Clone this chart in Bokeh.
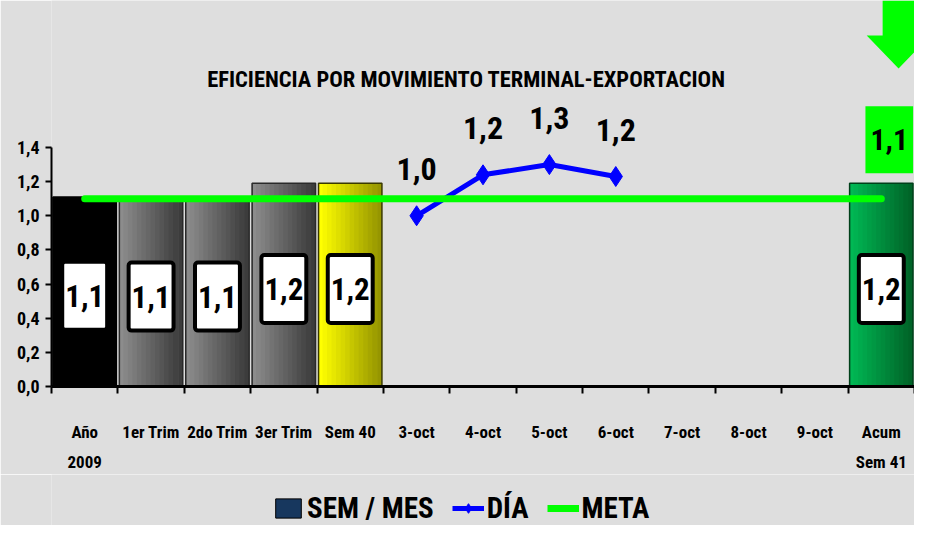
from bokeh.plotting import figure
from bokeh.layouts import column
from bokeh.models import (ColumnDataSource, FixedTicker, CustomJSTickFormatter,
                          Legend, LegendItem, Range1d, Label)
from bokeh.core.properties import value
from bokeh.embed import file_html
from bokeh.resources import INLINE

# ---------------- data ----------------
categories = ["Año\n2009", "1er Trim", "2do Trim", "3er Trim", "Sem 40",
              "3-oct", "4-oct", "5-oct", "6-oct", "7-oct", "8-oct", "9-oct",
              "Acum\nSem 41"]
bar_categories = ["Año\n2009", "1er Trim", "2do Trim", "3er Trim", "Sem 40", "Acum\nSem 41"]
bar_values = [1.11, 1.10, 1.10, 1.19, 1.19, 1.19]
day_categories = ["3-oct", "4-oct", "5-oct", "6-oct"]
day_values = [1.00, 1.24, 1.30, 1.23]
meta_values = [1.1, 1.1, 1.1, 1.1, 1.1, 1.1, 1.1, 1.1, 1.1, 1.1, 1.1, 1.1, 1.1]
meta_label_value = 1.1
y_ticks = [0.0, 0.2, 0.4, 0.6, 0.8, 1.0, 1.2, 1.4]
title_text = "EFICIENCIA POR MOVIMIENTO TERMINAL-EXPORTACION"
legend_labels = ["SEM / MES", "DÍA", "META"]

# ---------------- style ----------------
FONT = "Roboto Condensed"
BG = "#dedede"
# (left colour, right colour) of each bar's horizontal gradient
bar_grad = [((0, 0, 0), (0, 0, 0)),
            ((140, 140, 140), (60, 60, 60)),
            ((140, 140, 140), (60, 60, 60)),
            ((140, 140, 140), (60, 60, 60)),
            ((255, 255, 0), (150, 150, 0)),
            ((0, 184, 84), (0, 100, 40))]
bar_line_colors = ["#000000", "#2a2a2a", "#2a2a2a", "#2a2a2a", "#3a3a00", "#00401a"]
SEM_COLOR = "#17375e"
DAY_COLOR = "#0000ff"
META_COLOR = "#00ff00"
NAN = float("nan")
BAR_W = 0.955
N_STRIPS = 14


def fmt(v):
    return f"{v:.1f}".replace(".", ",")


def xpos(cat):
    return categories.index(cat) + 0.5


def hexc(rgb):
    return "#%02x%02x%02x" % tuple(int(round(c)) for c in rgb)


n = len(categories)
Y_TOP = 2.261

p = figure(frame_width=863, frame_height=386,
           output_backend="svg", toolbar_location=None,
           x_range=Range1d(0, n), y_range=Range1d(0, Y_TOP),
           min_border_left=51, min_border_right=0, min_border_top=0,
           min_border_bottom=0,
           background_fill_color=BG, border_fill_color=BG,
           outline_line_color=None)
p.xgrid.visible = False
p.ygrid.visible = False

# y axis
p.yaxis.ticker = FixedTicker(ticks=y_ticks)
p.yaxis.bounds = (0, 1.4)
p.yaxis.formatter = CustomJSTickFormatter(code="return tick.toFixed(1).replace('.', ',')")
p.yaxis.major_label_text_font = FONT
p.yaxis.major_label_text_font_size = "18px"
p.yaxis.major_label_text_font_style = "bold"
p.yaxis.major_label_text_color = "#000000"
p.yaxis.major_tick_out = 6
p.yaxis.major_tick_in = 0
p.yaxis.minor_tick_out = 0
p.yaxis.minor_tick_in = 0
p.yaxis.axis_line_width = 2
p.yaxis.major_tick_line_width = 2
p.yaxis.major_label_standoff = 6

# x axis (ticks at category boundaries, labels at centres)
p.xaxis.ticker = FixedTicker(ticks=[i + 0.5 for i in range(n)],
                             minor_ticks=list(range(n + 1)))
p.xaxis.formatter = CustomJSTickFormatter(args=dict(labels=categories),
                                          code="return labels[Math.floor(tick)]")
p.xaxis.major_tick_line_color = None
p.xaxis.major_tick_out = 7
p.xaxis.minor_tick_out = 7
p.xaxis.minor_tick_in = 0
p.xaxis.minor_tick_line_width = 2
p.xaxis.axis_line_width = 3
p.xaxis.major_label_text_font = FONT
p.xaxis.major_label_text_font_size = "17px"
p.xaxis.major_label_text_font_style = "bold"
p.xaxis.major_label_text_color = "#000000"
p.xaxis.major_label_text_line_height = 1.5
p.xaxis.major_label_standoff = 28

# bars: gradient fill built from strips, then an outline on top
bar_x = [xpos(c) for c in bar_categories]
sx, stop, scol, sw = [], [], [], []
for bx, v, (c0, c1) in zip(bar_x, bar_values, bar_grad):
    step = BAR_W / N_STRIPS
    for j in range(N_STRIPS):
        t = j / (N_STRIPS - 1)
        sx.append(bx - BAR_W / 2 + (j + 0.5) * step)
        stop.append(v)
        sw.append(step * 1.25 if j < N_STRIPS - 1 else step)
        scol.append(hexc([a + (b - a) * t for a, b in zip(c0, c1)]))
p.vbar(x=sx, top=stop, width=sw, fill_color=scol, line_color=None)

bar_src = ColumnDataSource(dict(
    x=bar_x,
    top=bar_values,
    mid=[v / 2 for v in bar_values],
    label=[fmt(v) for v in bar_values],
    lcolor=bar_line_colors,
))
p.vbar(x="x", top="top", width=BAR_W, source=bar_src, fill_color=None,
       line_color="lcolor", line_width=1.5)

# daily line
day_src = ColumnDataSource(dict(
    x=[xpos(c) for c in day_categories],
    y=day_values,
    label=[fmt(v) for v in day_values],
))
p.line("x", "y", source=day_src, line_color=DAY_COLOR, line_width=5)
p.scatter("x", "y", source=day_src, marker="diamond", size=20,
          fill_color=DAY_COLOR, line_color=DAY_COLOR)

# target line
meta_src = ColumnDataSource(dict(x=[xpos(c) for c in categories], y=meta_values))
p.line("x", "y", source=meta_src, line_color=META_COLOR, line_width=7, line_cap="round")

# bar value labels
p.text(x="x", y="mid", text="label", source=bar_src, text_align="center",
       text_baseline="middle", y_offset=4, text_font=value(FONT), text_font_size="31px",
       text_font_style="bold", text_color="#000000",
       background_fill_color="#ffffff", border_line_color="#000000",
       border_line_width=4, border_radius=3,
       padding=dict(left=3, right=3, top=23, bottom=23))

# daily value labels
p.text(x="x", y="y", text="label", source=day_src, text_align="center",
       text_baseline="middle", y_offset=-47, text_font=value(FONT),
       text_font_size="32px", text_font_style="bold", text_color="#000000")

# target label box (top right)
last = categories[-1]
p.text(x=[xpos(last) + 0.12], y=[1.44], text=[fmt(meta_label_value)],
       text_align="center", text_baseline="middle", y_offset=-1,
       text_font=value(FONT), text_font_size="30px", text_font_style="bold",
       text_color="#000000", background_fill_color=META_COLOR, border_line_color=None,
       padding=dict(left=5, right=5, top=23, bottom=23))

# decorative green arrow
cx = xpos(last) + 0.26
p.patch(x=[cx - 0.24, cx + 0.24, cx + 0.24, cx + 0.48, cx, cx - 0.48, cx - 0.24],
        y=[Y_TOP, Y_TOP, 2.056, 2.056, 1.863, 2.056, 2.056],
        fill_color=META_COLOR, line_color=None)

# title
p.add_layout(Label(x=6.25, y=1.80, text=title_text, text_align="center",
                   text_baseline="middle", text_font=FONT, text_font_size="22.5px",
                   text_font_style="bold", text_color="#000000"))

# ---------------- legend strip ----------------
lg = figure(width=914, height=51, output_backend="svg", toolbar_location=None,
            x_range=Range1d(0, 1), y_range=Range1d(0, 1),
            min_border=0, background_fill_color=BG, border_fill_color=BG,
            outline_line_color=None)
lg.axis.visible = False
lg.grid.visible = False
sem_r = lg.vbar(x=[NAN], top=[NAN], width=0.9, fill_color=SEM_COLOR, line_color="#000000")
day_l = lg.line(x=[NAN], y=[NAN], line_color=DAY_COLOR, line_width=5)
day_m = lg.scatter(x=[NAN], y=[NAN], marker="diamond", size=20, fill_color=DAY_COLOR,
                   line_color=DAY_COLOR)
meta_l = lg.line(x=[NAN], y=[NAN], line_color=META_COLOR, line_width=7)
legend = Legend(items=[
    LegendItem(label=legend_labels[0], renderers=[sem_r]),
    LegendItem(label=legend_labels[1], renderers=[day_l, day_m]),
    LegendItem(label=legend_labels[2], renderers=[meta_l]),
], orientation="horizontal", location=(221, 0),
    label_text_font=FONT, label_text_font_size="29px", label_text_font_style="bold",
    label_text_color="#000000", background_fill_alpha=0, border_line_color=None,
    glyph_width=32, glyph_height=24, spacing=18, label_standoff=3,
    padding=0, margin=0)
lg.add_layout(legend)

layout = column(p, lg, spacing=0)
open("out.html", "w").write(file_html(layout, INLINE))
